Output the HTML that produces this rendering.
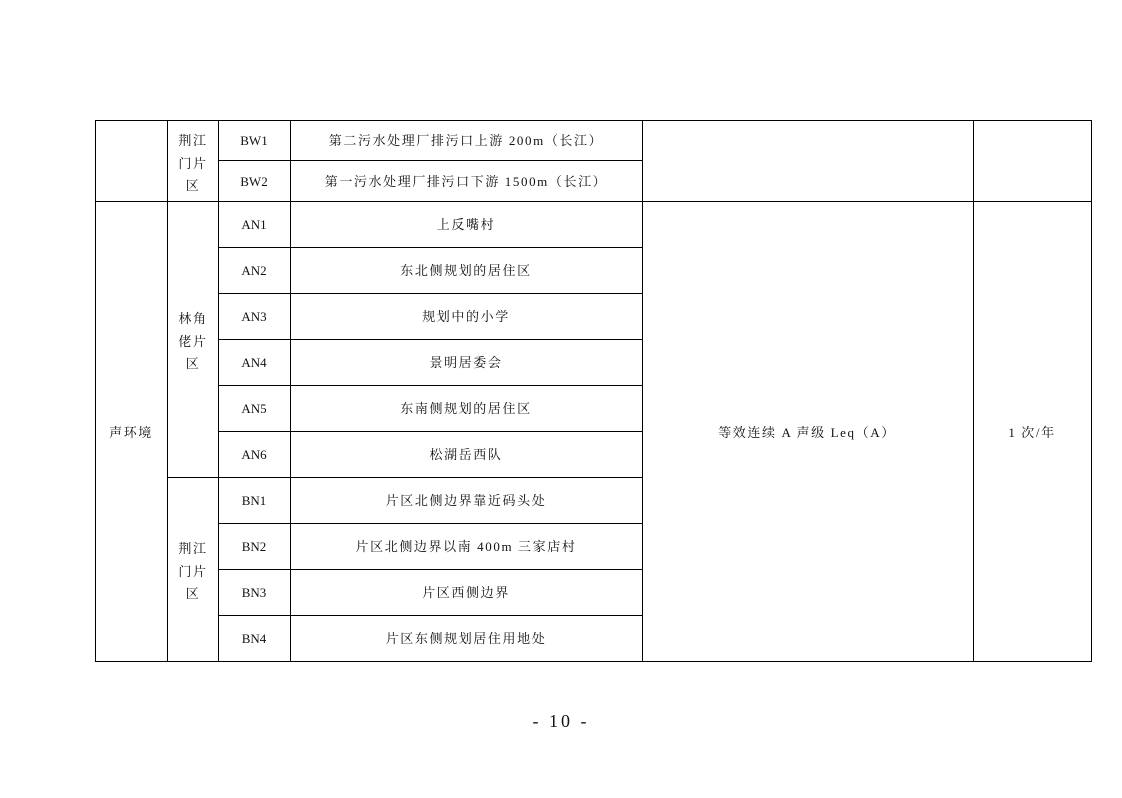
<!DOCTYPE html>
<html><head><meta charset="utf-8"><style>
body{margin:0;background:#fff;}
svg text{font-family:"Liberation Serif","Noto Serif CJK SC",serif;font-size:13px;fill:#111;letter-spacing:1.6px;}
svg text.c{letter-spacing:0;}
</style></head><body>
<svg width="1122" height="793" xmlns="http://www.w3.org/2000/svg">
<g stroke="#000" stroke-width="1" fill="none" shape-rendering="crispEdges">
<rect x="95.5" y="120.5" width="996" height="541"/>
<line x1="167.5" y1="120" x2="167.5" y2="661"/>
<line x1="218.5" y1="120" x2="218.5" y2="661"/>
<line x1="290.5" y1="120" x2="290.5" y2="661"/>
<line x1="642.5" y1="120" x2="642.5" y2="661"/>
<line x1="973.5" y1="120" x2="973.5" y2="661"/>
<line x1="218" y1="160.5" x2="642" y2="160.5"/>
<line x1="95" y1="201.5" x2="1091" y2="201.5"/>
<line x1="218" y1="247.5" x2="642" y2="247.5"/>
<line x1="218" y1="293.5" x2="642" y2="293.5"/>
<line x1="218" y1="339.5" x2="642" y2="339.5"/>
<line x1="218" y1="385.5" x2="642" y2="385.5"/>
<line x1="218" y1="431.5" x2="642" y2="431.5"/>
<line x1="167" y1="477.5" x2="642" y2="477.5"/>
<line x1="218" y1="523.5" x2="642" y2="523.5"/>
<line x1="218" y1="569.5" x2="642" y2="569.5"/>
<line x1="218" y1="615.5" x2="642" y2="615.5"/>
</g>
<g text-anchor="middle">
<text x="193" y="145">荆江</text><text x="193" y="168">门片</text><text x="193" y="190">区</text>
<text class="c" x="254" y="145">BW1</text><text class="c" x="254" y="186">BW2</text>
<text x="466" y="145">第二污水处理厂排污口上游 200m（长江）</text>
<text x="466" y="186">第一污水处理厂排污口下游 1500m（长江）</text>
<text x="193" y="323">林角</text><text x="193" y="346">佬片</text><text x="193" y="368">区</text>
<text x="193" y="553">荆江</text><text x="193" y="576">门片</text><text x="193" y="598">区</text>
<text x="131" y="437">声环境</text>
<text x="807" y="437">等效连续 A 声级 Leq（A）</text>
<text x="1032" y="437">1 次/年</text>
<text class="c" x="254" y="229">AN1</text><text x="466" y="229">上反嘴村</text>
<text class="c" x="254" y="275">AN2</text><text x="466" y="275">东北侧规划的居住区</text>
<text class="c" x="254" y="321">AN3</text><text x="466" y="321">规划中的小学</text>
<text class="c" x="254" y="367">AN4</text><text x="466" y="367">景明居委会</text>
<text class="c" x="254" y="413">AN5</text><text x="466" y="413">东南侧规划的居住区</text>
<text class="c" x="254" y="459">AN6</text><text x="466" y="459">松湖岳西队</text>
<text class="c" x="254" y="505">BN1</text><text x="466" y="505">片区北侧边界靠近码头处</text>
<text class="c" x="254" y="551">BN2</text><text x="466" y="551">片区北侧边界以南 400m 三家店村</text>
<text class="c" x="254" y="597">BN3</text><text x="466" y="597">片区西侧边界</text>
<text class="c" x="254" y="643">BN4</text><text x="466" y="643">片区东侧规划居住用地处</text>
<text x="561" y="727" style="font-size:18px;letter-spacing:3px">- 10 -</text>
</g>
</svg>
</body></html>
